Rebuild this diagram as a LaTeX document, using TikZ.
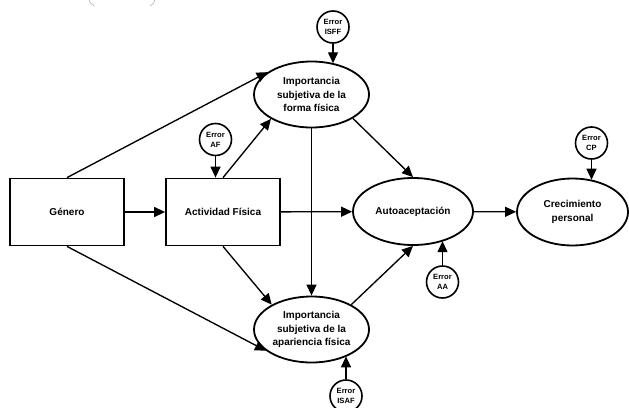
\documentclass[tikz,border=0pt]{standalone}
\usepackage{fontspec}
\setmainfont{Liberation Sans}
\usetikzlibrary{arrows.meta,shapes.geometric}
\begin{document}
\begin{tikzpicture}[x=1pt,y=-1pt,
  box/.style={draw,line width=1.8pt,minimum width=114pt,minimum height=67pt,inner sep=0pt,font=\bfseries\fontsize{10}{13}\selectfont},
  oval/.style={draw,ellipse,line width=1.8pt,minimum width=115pt,minimum height=66pt,inner sep=0pt,align=center,font=\bfseries\fontsize{10}{13.2}\selectfont},
  err/.style={draw,circle,line width=1.6pt,minimum size=32pt,inner sep=0pt,align=center,font=\bfseries\fontsize{7.6}{9.8}\selectfont},
  arr/.style={-{Triangle[length=11pt,width=10pt]},line width=1.35pt}]
\useasboundingbox (0,0) rectangle (629,407);
% faint marks at the top edge
\draw[gray!60,line width=0.6pt] (89,-1) .. controls (90,3) .. (94.5,6);
\draw[gray!60,line width=0.6pt] (155,-1) .. controls (154,3) .. (150,6);
% nodes
\node[box] (gen) at (67,212) {Género};
\node[box] (af) at (223,212) {Actividad Física};
\node[oval] (isff) at (311.5,94.5) {Importancia\\subjetiva de la\\forma física};
\node[oval] (isfa) at (311.5,329.5) {Importancia\\subjetiva de la\\apariencia física};
\node[oval,minimum width=120pt,minimum height=67pt] (aa) at (413,211.5) {Autoaceptación};
\node[oval,minimum width=111pt,minimum height=67pt] (cp) at (572.5,212) {Crecimiento\\personal};
\node[err] (eisff) at (333,27) {Error\\ISFF};
\node[err] (eaf) at (215.5,139.5) {Error\\AF};
\node[err] (ecp) at (591.5,143) {Error\\CP};
\node[err] (eaa) at (442.5,282) {Error\\AA};
\node[err] (eisaf) at (346,396) {Error\\ISAF};
% connectors
\draw[arr] (gen) -- (af);
\draw[arr] (gen.north) -- (isff.153);
\draw[arr] (gen.south) -- (isfa.205);
\draw[arr] (af.north) -- (isff.211);
\draw[arr] (af.south) -- (isfa.148);
\draw[arr] (af) -- (aa);
\draw[arr] (isff) -- (isfa);
\draw[arr] (isff.-30) -- (aa.north);
\draw[arr] (isfa.32) -- (aa.south);
\draw[arr] (aa) -- (cp);
% error arrows
\draw[arr] (eisff.south) -- (eisff.south |- isff.54.5);
\draw[arr] (eaf.south) -- (eaf.south |- af.north);
\draw[arr] (ecp.south) -- (ecp.south |- cp.59);
\draw[arr] (eaa.north) -- (eaa.north |- aa.-44.7);
\draw[arr] (eisaf.north) -- (eisaf.north |- isfa.-37);
\end{tikzpicture}
\end{document}
